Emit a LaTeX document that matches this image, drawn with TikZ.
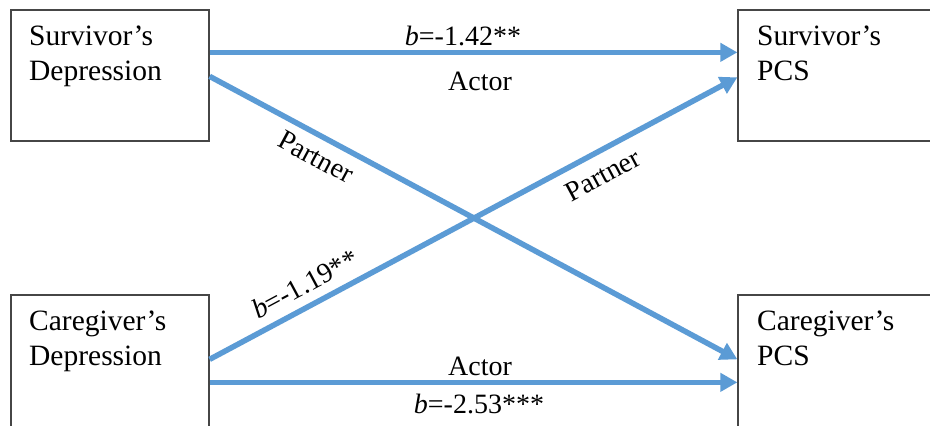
\documentclass[tikz,border=0pt]{standalone}
\usepackage{fontspec}
\setmainfont{Liberation Serif}
\usetikzlibrary{arrows.meta}
\definecolor{arrowblue}{RGB}{91,155,213}
\definecolor{boxgray}{RGB}{70,70,70}
\tikzset{
  box/.style={draw=boxgray, line width=1.3pt, minimum width=198pt, minimum height=131pt, inner sep=0pt},
  tallbox/.style={box, minimum height=135pt},
  boxtext/.style={font=\fontsize{29.5}{35}\selectfont, text width=190pt, align=left, inner sep=0pt, anchor=base west},
  lbl/.style={font=\fontsize{28}{34}\selectfont, inner sep=0pt},
  link/.style={draw=arrowblue, line width=5.5pt, -{Triangle[length=17pt,width=18pt]}}
}
\begin{document}
\begin{tikzpicture}[x=1pt,y=-1pt]
\useasboundingbox (0,0) rectangle (930,426);
\clip (0,0) rectangle (930,426);
\fill[white] (0,0) rectangle (930,426);
% boxes
\node[box] (sd) at (110,75.5) {};
\node[box] (sp) at (837,75.5) {};
\node[tallbox] (cd) at (110,362.5) {};
\node[tallbox] (cp) at (837,362.5) {};
% box texts
\node[boxtext] (sdt) at (29,45) {Survivor’s\\Depression};
\node[boxtext] (spt) at (757,45) {Survivor’s\\PCS};
\node[boxtext] (cdt) at (29,330) {Caregiver’s\\Depression};
\node[boxtext] (cpt) at (757,330) {Caregiver’s\\PCS};
% connectors
\draw[link] ([yshift=-43pt]sd.north east) -- ([yshift=-43pt]sp.north west);
\draw[link] ([yshift=-67pt]sd.north east) -- ([yshift=-65pt]cp.north west);
\draw[link] ([yshift=-65pt]cd.north east) -- ([yshift=-68pt]sp.north west);
\draw[link] ([yshift=-88pt]cd.north east) -- ([yshift=-88pt]cp.north west);
% labels
\node[lbl, anchor=base] (b1) at (463,45) {\textit{b}=-1.42**};
\node[lbl, anchor=base] (a1) at (480,90) {Actor};
\node[lbl, rotate=-28.2] (p1) at (316,157) {Partner};
\node[lbl, rotate=28.2] (p2) at (603,175) {Partner};
\node[lbl, rotate=28.2] (b2) at (305,284) {\textit{b}=-1.19**};
\node[lbl, anchor=base] (a2) at (480,375) {Actor};
\node[lbl, anchor=base] (b3) at (479,413) {\textit{b}=-2.53***};
\end{tikzpicture}
\end{document}
